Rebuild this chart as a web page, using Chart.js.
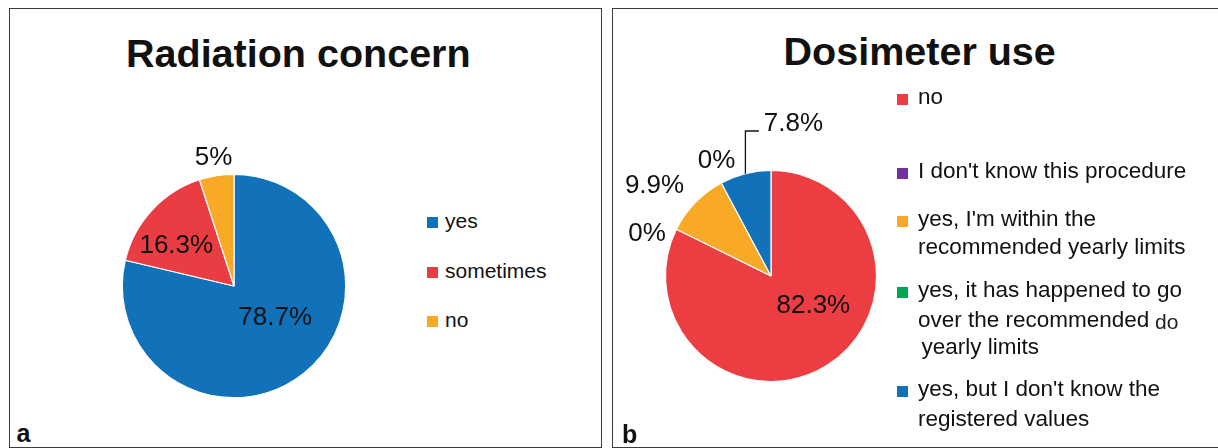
<!DOCTYPE html>
<html>
<head>
<meta charset="utf-8">
<script src="https://cdn.jsdelivr.net/npm/chart.js@4.4.1/dist/chart.umd.min.js"></script>
<style>
  html, body { margin: 0; padding: 0; background: #fff; }
  #page { position: relative; width: 1218px; height: 448px; overflow: hidden;
          font-family: "Liberation Sans", Arial, sans-serif; color: #111; }
  .panel { position: absolute; border: 1.5px solid #3c3c3c; box-sizing: border-box; }
  .txt { position: absolute; white-space: nowrap; }
  .box { position: absolute; }
  .chart { position: absolute; }
</style>
</head>
<body>
<div id="page">
  <div class="panel" style="left:8.5px;top:7.5px;width:593.5px;height:440px"></div>
  <div class="panel" style="left:612px;top:7.5px;width:620px;height:440px"></div>
  <div class="chart" style="left:84.3px;top:135.5px;width:300px;height:300px"><canvas id="pieA"></canvas></div>
  <div class="chart" style="left:601.2px;top:106.2px;width:340px;height:340px"><canvas id="pieB"></canvas></div>
</div>
<script>
// ── Dados ────────────────────────────────────────────────────
const concernTitle  = 'Radiation concern';
const concernLabels = ['yes', 'sometimes', 'no'];
const concernValues = [78.7, 16.3, 5];
const concernColors = ['#1172ba', '#e93d43', '#f8a925'];

const dosimeterTitle  = 'Dosimeter use';
const dosimeterLabels = [
    ['no'],
    ["I don't know this procedure"],
    ["yes, I'm within the", 'recommended yearly limits'],
    ['yes, it has happened to go', 'over the recommended', 'yearly limits'],
    ["yes, but I don't know the", 'registered values'],
];
const dosimeterValues = [82.3, 0, 9.9, 0, 7.8];
const dosimeterColors = ['#ec3d43', '#7131a1', '#f8a925', '#00a650', '#1172ba'];

const page = document.getElementById('page');

// ── Texto HTML posicionado pela linha de base ────────────────
function addText(str, x, baseline, size, opts = {}) {
    const el = document.createElement('div');
    el.className = 'txt';
    el.textContent = str;
    el.style.fontSize = size + 'px';
    el.style.lineHeight = size + 'px';
    el.style.top = (baseline - 0.8465 * size) + 'px';
    if (opts.center) {
        el.style.left = (x - 400) + 'px';
        el.style.width = '800px';
        el.style.textAlign = 'center';
    } else {
        el.style.left = x + 'px';
    }
    if (opts.bold) el.style.fontWeight = 'bold';
    if (opts.color) el.style.color = opts.color;
    page.appendChild(el);
}

function addBox(color, x, y, w, h) {
    const el = document.createElement('div');
    el.className = 'box';
    Object.assign(el.style, { left: x + 'px', top: y + 'px', width: w + 'px', height: h + 'px', background: color });
    page.appendChild(el);
}

// ── Rótulos das fatias ───────────────────────────────────────
const sliceLabels = {
    id: 'sliceLabels',
    afterDatasetsDraw(chart, args, opts) {
        const meta = chart.getDatasetMeta(0);
        const values = chart.data.datasets[0].data;
        const ctx = chart.ctx;
        ctx.save();
        ctx.font = '26px "Liberation Sans", Arial, sans-serif';
        ctx.fillStyle = '#111';
        ctx.textAlign = 'center';
        ctx.textBaseline = 'middle';
        meta.data.forEach((arc, i) => {
            const p = opts.place[i];
            const { x, y, startAngle, endAngle, outerRadius } =
                arc.getProps(['x', 'y', 'startAngle', 'endAngle', 'outerRadius'], true);
            const mid = (startAngle + endAngle) / 2;
            const a = mid + p.shift * Math.PI / 180;
            const lx = x + Math.cos(a) * outerRadius * p.dist;
            const ly = y + Math.sin(a) * outerRadius * p.dist;
            const text = values[i] + '%';
            ctx.fillText(text, lx, ly + 1);
            if (p.leader) {
                const ex = x + Math.cos(mid) * outerRadius;
                const ey = y + Math.sin(mid) * outerRadius;
                const w = ctx.measureText(text).width;
                ctx.strokeStyle = '#111';
                ctx.lineWidth = 1.3;
                ctx.beginPath();
                ctx.moveTo(ex, ey);
                ctx.lineTo(ex, ly + 8);
                ctx.lineTo(lx - w / 2 - 5, ly + 8);
                ctx.stroke();
            }
        });
        ctx.restore();
    }
};

function makePie(id, labels, values, colors, radius, place) {
    return new Chart(document.getElementById(id), {
        type: 'pie',
        data: { labels, datasets: [{ data: values, backgroundColor: colors, borderColor: '#fff', borderWidth: 1.2 }] },
        options: {
            responsive: true, maintainAspectRatio: false, animation: false,
            radius,
            layout: { padding: 0 },
            plugins: { legend: { display: false }, tooltip: { enabled: false }, sliceLabels: { place } },
        },
        plugins: [sliceLabels],
    });
}

// ── Painel a ─────────────────────────────────────────────────
addText(concernTitle, 298.3, 67, 39.5, { bold: true, center: true });
addText('a', 16.5, 441.7, 25, { bold: true });
makePie('pieA', concernLabels, concernValues, concernColors, 111.7, [
    { dist: 0.46,  shift: -15 },
    { dist: 0.636, shift: -7 },
    { dist: 1.175, shift: 0 },
]);
const legendA = [227.5, 277.3, 326.7];
concernLabels.forEach((lab, i) => {
    addBox(concernColors[i], 426.7, legendA[i] - 10.3, 11, 10.5);
    addText(lab, 445, legendA[i], 21);
});

// ── Painel b ─────────────────────────────────────────────────
addText(dosimeterTitle, 919.7, 65.5, 39.5, { bold: true, center: true });
addText('b', 622, 443, 25, { bold: true });
makePie('pieB', dosimeterLabels, dosimeterValues, dosimeterColors, 105.5, [
    { dist: 0.485, shift: -24 },
    { dist: 1.244, shift: -7 },
    { dist: 1.403, shift: -6 },
    { dist: 1.217, shift: 3 },
    { dist: 1.466, shift: 22.4, leader: true },
]);
const legendB = [[105], [179], [226.7, 255], [298.3, 328.3, 355], [397.3, 426.7]];
dosimeterLabels.forEach((lines, i) => {
    const base = legendB[i];
    addBox(dosimeterColors[i], 896.5, base[0] - 11, 11, 11);
    lines.forEach((ln, j) => addText(ln, (i === 3 && j === 2) ? 921.5 : 918, base[j], 22.5));
});
addText('do', 1155, 328.3, 21, { color: '#222' });
</script>
</body>
</html>
